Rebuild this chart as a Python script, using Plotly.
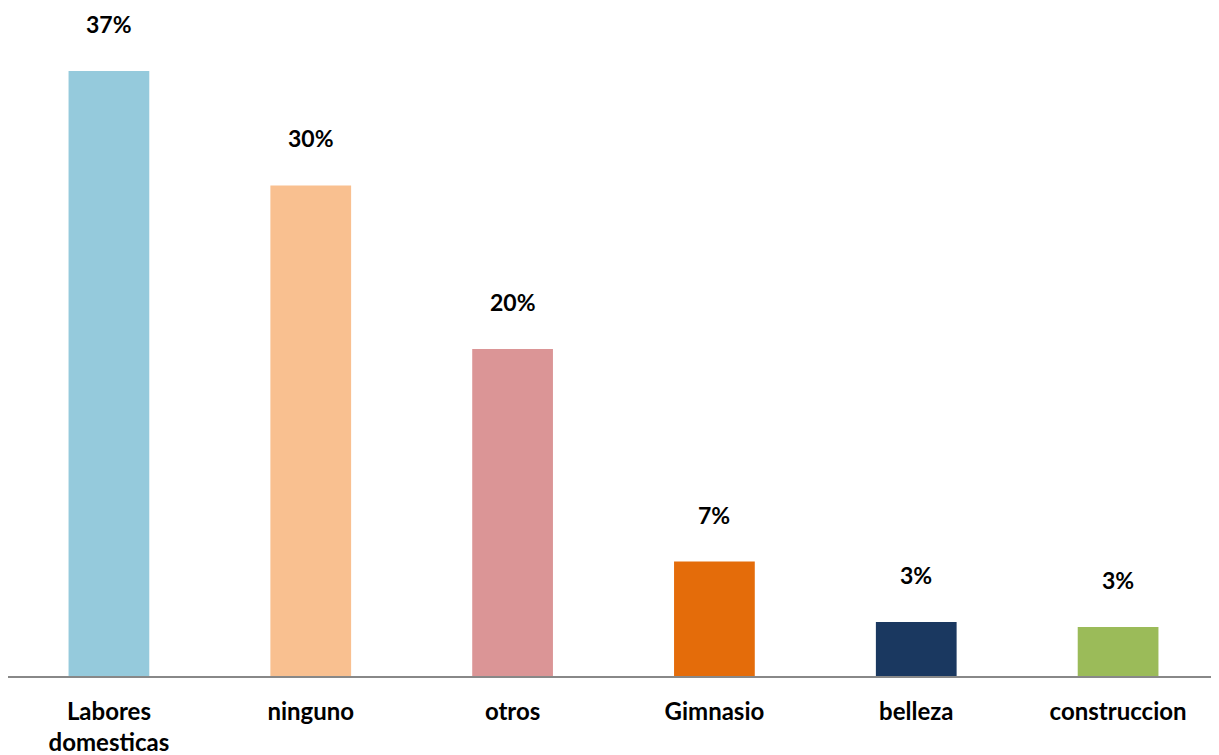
import plotly.graph_objects as go

categories = ["Labores<br>domesticas", "ninguno", "otros", "Gimnasio", "belleza", "construccion"]
values = [37.0, 30.0, 20.0, 7.0, 3.3, 3.0]
labels = ["37%", "30%", "20%", "7%", "3%", "3%"]
colors = ["#95CADC", "#F9C090", "#DB9596", "#E46C0A", "#1A3860", "#9BBB59"]

fig = go.Figure()
fig.add_trace(go.Bar(x=categories, y=values, marker=dict(color=colors, line=dict(width=0)),
                     hoverinfo="skip"))

for c, v, t in zip(categories, values, labels):
    fig.add_annotation(x=c, y=v, text="<b>" + t + "</b>", showarrow=False, yshift=47,
                       font=dict(family="Lato", size=23, color="#000000"))

fig.update_layout(
    width=1211, height=747,
    margin=dict(l=0, r=0, t=2, b=79),
    paper_bgcolor="white", plot_bgcolor="white",
    bargap=0.6, showlegend=False,
    font=dict(family="Lato", size=23, color="#000000"),
)
fig.update_xaxes(showline=True, linecolor="#888888", linewidth=2, ticks="",
                 tickfont=dict(family="Lato", size=24, color="#000000", weight="bold"),
                 ticklabelstandoff=13, showgrid=False, zeroline=False)
fig.update_yaxes(range=[0, 40.73], visible=False, showgrid=False, zeroline=False)

fig.write_html("out.html")
